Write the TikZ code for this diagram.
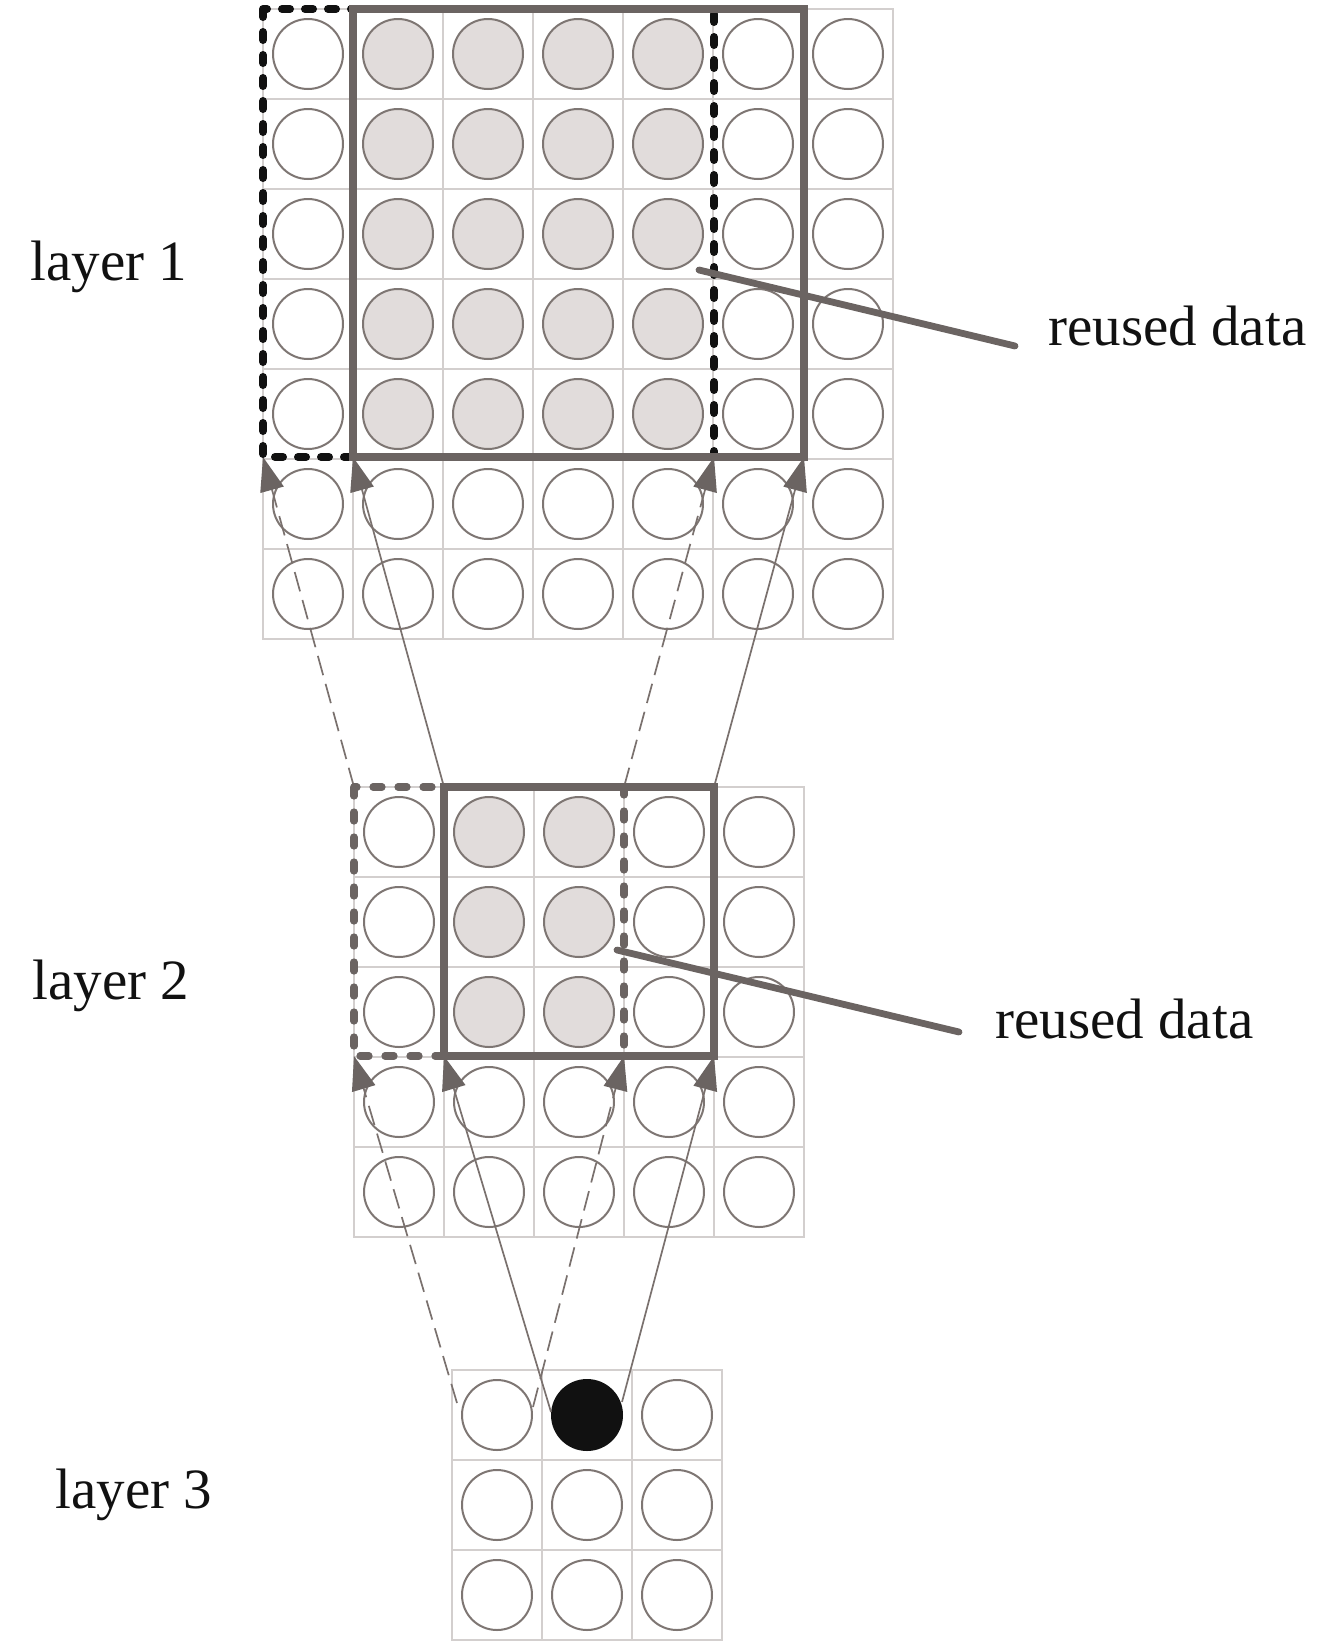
\documentclass[tikz,border=0pt]{standalone}
\usepackage{fontspec}
\setmainfont{Liberation Serif}
\usetikzlibrary{arrows.meta}
\definecolor{gridc}{HTML}{D3CFCE}
\definecolor{circc}{HTML}{7E7673}
\definecolor{shadec}{HTML}{E1DCDB}
\definecolor{boxc}{HTML}{6B6462}
\definecolor{dblack}{HTML}{111111}
\definecolor{arrc}{HTML}{7A716E}
\begin{document}
\begin{tikzpicture}[x=0.5pt,y=-0.5pt,
  cellbox/.style={draw=gridc, line width=0.75pt},
  dot/.style={circle, draw=circc, line width=1pt, minimum size=35pt, inner sep=0pt, fill=white},
  shaded/.style={dot, fill=shadec},
  blackdot/.style={dot, draw=dblack, fill=dblack},
  solidbox/.style={draw=boxc, line width=3.7pt},
  dashblack/.style={draw=dblack, line width=4pt, line cap=round, dash pattern=on 4pt off 7.5pt},
  dashgray/.style={draw=boxc, line width=3.6pt, line cap=round, dash pattern=on 4.5pt off 8pt},
  arr/.style={draw=arrc, line width=0.85pt, -{Triangle[length=17pt,width=12pt,color=boxc]}},
  darr/.style={arr, dash pattern=on 10pt off 4.5pt},
  leader/.style={draw=boxc, line width=3.4pt, line cap=round},
  lab/.style={anchor=base west, inner sep=0pt, font=\fontsize{28.5}{34}\selectfont, text=dblack}]
\useasboundingbox (0,0) rectangle (1332,1644);

% ---------- layer 1 grid (7x7) ----------
\foreach \r in {0,...,6}{\foreach \c in {0,...,6}{
  \draw[cellbox] (263+\c*90, 9+\r*90) rectangle ++(90,90);
  \ifnum\r<5 \ifnum\c>0 \ifnum\c<5 \def\st{shaded}\else\def\st{dot}\fi\else\def\st{dot}\fi\else\def\st{dot}\fi
  \node[\st] (A-\r-\c) at (308+\c*90, 54+\r*90) {};
}}

% ---------- layer 2 grid (5x5) ----------
\foreach \r in {0,...,4}{\foreach \c in {0,...,4}{
  \draw[cellbox] (354+\c*90, 787+\r*90) rectangle ++(90,90);
  \ifnum\r<3 \ifnum\c>0 \ifnum\c<3 \def\st{shaded}\else\def\st{dot}\fi\else\def\st{dot}\fi\else\def\st{dot}\fi
  \node[\st] (B-\r-\c) at (399+\c*90, 832+\r*90) {};
}}

% ---------- layer 3 grid (3x3) ----------
\foreach \r in {0,...,2}{\foreach \c in {0,...,2}{
  \draw[cellbox] (452+\c*90, 1370+\r*90) rectangle ++(90,90);
  \ifnum\r=0 \ifnum\c=1 \def\st{blackdot}\else\def\st{dot}\fi\else\def\st{dot}\fi
  \node[\st] (C-\r-\c) at (497+\c*90, 1415+\r*90) {};
}}

% ---------- named corner coordinates ----------
\coordinate (L1dTL) at (263,9);   \coordinate (L1dBR) at (714,457);
\coordinate (L1sTL) at (353,9);   \coordinate (L1sBR) at (804,457);
\coordinate (L1dBL) at (263,457); \coordinate (L1sBL) at (353,457);
\coordinate (L1sBRc) at (804,457); \coordinate (L1dBRc) at (714,457);
\coordinate (L2dTL) at (354,787); \coordinate (L2dBR) at (624,1056);
\coordinate (L2sTL) at (444,787); \coordinate (L2sBR) at (714,1056);
\coordinate (L2dTR) at (624,787); \coordinate (L2sTR) at (714,787);
\coordinate (L2dBL) at (354,1056); \coordinate (L2sBL) at (444,1056);
\coordinate (L3a) at (457,1403);  \coordinate (L3b) at (533,1407);
\coordinate (L3c) at (551,1412);  \coordinate (L3d) at (622,1402);

% ---------- arrows layer 2 -> layer 1 ----------
\draw[darr] (L2dTL) -- (L1dBL);
\draw[arr]  (L2sTL) -- (L1sBL);
\draw[darr] (L2dTR) -- (L1dBRc);
\draw[arr]  (L2sTR) -- (L1sBRc);

% ---------- arrows layer 3 -> layer 2 ----------
\draw[darr] (L3a) -- (L2dBL);
\draw[arr]  (L3c) -- (L2sBL);
\draw[darr] (L3b) -- (L2dBR);
\draw[arr]  (L3d) -- (L2sBR);

% ---------- windows ----------
\draw[dashblack] (L1dTL) rectangle (L1dBR);
\draw[solidbox] (L1sTL) rectangle (L1sBR);
\draw[dashgray] (L2dTL) rectangle (L2dBR);
\draw[solidbox] (L2sTL) rectangle (L2sBR);

% ---------- labels ----------
\node[lab] (lay1) at (30,280) {layer 1};
\node[lab] (lay2) at (32,999) {layer 2};
\node[lab] (lay3) at (55,1508) {layer 3};
\node[lab] (reu1) at (1048,345) {reused data};
\node[lab] (reu2) at (995,1038) {reused data};

% ---------- leader lines ----------
\coordinate (p1) at (699,270); \coordinate (q1) at (1015,346);
\coordinate (p2) at (617,950); \coordinate (q2) at (959,1032);
\draw[leader] (p1) -- (q1);
\draw[leader] (p2) -- (q2);
\end{tikzpicture}
\end{document}
